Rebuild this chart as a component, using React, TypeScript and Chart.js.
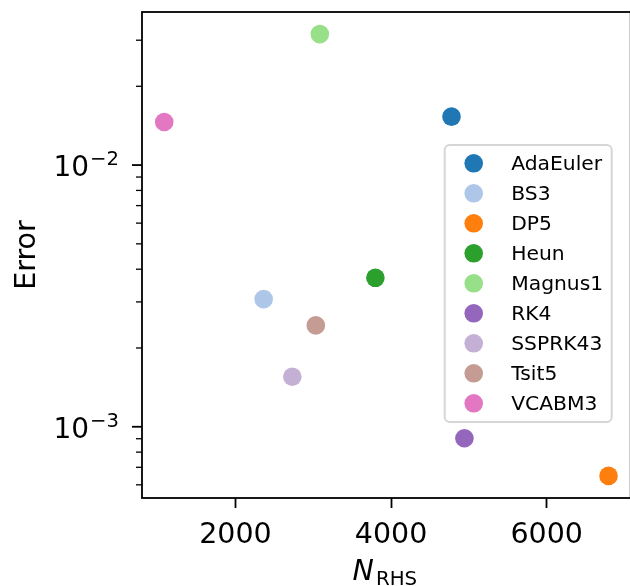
import React, { useEffect, useRef } from "react";
import { Chart, registerables } from "chart.js";

Chart.register(...registerables);

const methods = ["AdaEuler", "BS3", "DP5", "Heun", "Magnus1", "RK4", "SSPRK43", "Tsit5", "VCABM3"];
const nRHS = [4777, 2363, 6795, 3799, 3085, 4943, 2731, 3033, 1085];
const errors = [0.01531, 0.003075, 0.000649, 0.003708, 0.03166, 0.000904, 0.001553, 0.00244, 0.01461];
const colors = ["#1f77b4", "#aec7e8", "#ff7f0e", "#2ca02c", "#98df8a", "#9467bd", "#c5b0d5", "#c49c94", "#e377c2"];

const xTicks = [2000, 4000, 6000];
const xRange = [799.5, 7080];
const yRange = [5.343e-4, 0.03845];
const yMajorTicks = [1e-3, 1e-2];
const yMajorExponents = ["\u22123", "\u22122"];
const yMinorTicks = [6e-4, 7e-4, 8e-4, 9e-4, 2e-3, 3e-3, 4e-3, 5e-3, 6e-3, 7e-3, 8e-3, 9e-3, 2e-2, 3e-2];

const FONT = "'DejaVu Sans', sans-serif";

const axesPlugin = {
  id: "mplAxes",
  afterDatasetsDraw(chart: any) {
    const { ctx, chartArea: a, scales } = chart;
    const y = scales.y;
    ctx.save();
    ctx.strokeStyle = "#000";
    ctx.fillStyle = "#000";
    // y ticks
    ctx.lineWidth = 1.8;
    yMajorTicks.forEach((v) => {
      const py = y.getPixelForValue(v);
      ctx.beginPath();
      ctx.moveTo(a.left - 10, py);
      ctx.lineTo(a.left, py);
      ctx.stroke();
    });
    ctx.lineWidth = 1.3;
    yMinorTicks.forEach((v) => {
      const py = y.getPixelForValue(v);
      ctx.beginPath();
      ctx.moveTo(a.left - 6, py);
      ctx.lineTo(a.left, py);
      ctx.stroke();
    });
    // y tick labels
    ctx.textAlign = "left";
    ctx.textBaseline = "alphabetic";
    yMajorTicks.forEach((v, i) => {
      const py = y.getPixelForValue(v);
      ctx.font = `28px ${FONT}`;
      const wBase = ctx.measureText("10").width;
      ctx.font = `19.6px ${FONT}`;
      const wSup = ctx.measureText(yMajorExponents[i]).width;
      const right = a.left - 23;
      const x0 = right - wSup - wBase - 1;
      ctx.font = `28px ${FONT}`;
      ctx.fillText("10", x0, py + 11.4);
      ctx.font = `19.6px ${FONT}`;
      ctx.fillText(yMajorExponents[i], x0 + wBase + 1, py + 0.4);
    });
    // frame
    ctx.lineWidth = 1.8;
    ctx.strokeRect(a.left, a.top, a.right - a.left, a.bottom - a.top);
    // y title
    ctx.save();
    ctx.translate(35, (a.top + a.bottom) / 2);
    ctx.rotate(-Math.PI / 2);
    ctx.textAlign = "center";
    ctx.font = `28.5px ${FONT}`;
    ctx.fillText("Error", 0, 0);
    ctx.restore();
    // x title: N_RHS
    ctx.font = `italic 28.5px ${FONT}`;
    const wN = ctx.measureText("N").width;
    ctx.font = `19.8px ${FONT}`;
    const wR = ctx.measureText("RHS").width;
    const gap = 2;
    const cx = (a.left + a.right) / 2 - 1.5;
    const sx = cx - (wN + gap + wR) / 2;
    ctx.textAlign = "left";
    ctx.font = `italic 28.5px ${FONT}`;
    ctx.fillText("N", sx, 580);
    ctx.font = `19.8px ${FONT}`;
    ctx.fillText("RHS", sx + wN + gap, 585);
    ctx.restore();
  },
  afterDraw(chart: any) {
    const { ctx, chartArea: a } = chart;
    ctx.save();
    const bx = a.right - 186;
    const by = a.top + 133;
    const bw = 167;
    const bh = 277;
    ctx.beginPath();
    ctx.roundRect(bx, by, bw, bh, 5);
    ctx.fillStyle = "rgba(255,255,255,0.8)";
    ctx.fill();
    ctx.strokeStyle = "#d6d6d6";
    ctx.lineWidth = 2;
    ctx.stroke();
    ctx.font = `20.3px ${FONT}`;
    ctx.textAlign = "left";
    ctx.textBaseline = "alphabetic";
    chart.data.datasets.forEach((ds: any, i: number) => {
      const cy = by + 18.3 + 30 * i;
      ctx.beginPath();
      ctx.arc(bx + 29, cy, 9.3, 0, Math.PI * 2);
      ctx.fillStyle = ds.backgroundColor;
      ctx.fill();
      ctx.fillStyle = "#000";
      ctx.fillText(ds.label, bx + 66.5, cy + 6.5);
    });
    ctx.restore();
  },
};

export default function App() {
  const ref = useRef<HTMLCanvasElement>(null);
  useEffect(() => {
    const chart = new Chart(ref.current!, {
      type: "scatter",
      data: {
        datasets: methods.map((m, i) => ({
          label: m,
          data: [{ x: nRHS[i], y: errors[i] }],
          backgroundColor: colors[i],
          borderColor: colors[i],
          pointRadius: 9.3,
          pointHoverRadius: 9.3,
          pointBorderWidth: 0,
        })),
      },
      options: {
        animation: false,
        responsive: false,
        devicePixelRatio: 1,
        layout: { padding: { left: 142, top: 12, right: 8, bottom: 0 } },
        plugins: { legend: { display: false }, tooltip: { enabled: false } },
        scales: {
          x: {
            type: "linear",
            min: xRange[0],
            max: xRange[1],
            afterBuildTicks: (s: any) => {
              s.ticks = xTicks.map((v) => ({ value: v }));
            },
            afterFit: (s: any) => {
              s.height = 88;
            },
            grid: {
              display: true,
              drawOnChartArea: false,
              drawTicks: true,
              tickLength: 10,
              tickWidth: 1.8,
              tickColor: "#000",
            },
            border: { display: false },
            ticks: {
              color: "#000",
              font: { family: "'DejaVu Sans'", size: 28.5 },
              padding: 10,
              maxRotation: 0,
              autoSkip: false,
              callback: (v: any) => String(v),
            },
          },
          y: {
            type: "logarithmic",
            min: yRange[0],
            max: yRange[1],
            display: false,
          },
        },
      },
      plugins: [axesPlugin],
    } as any);
    return () => chart.destroy();
  }, []);
  return (
    <div style={{ position: "fixed", left: 0, top: 0, width: 630, height: 586, overflow: "hidden", background: "#fff" }}>
      <canvas ref={ref} width={640} height={586} style={{ display: "block", width: 640, height: 586 }} />
    </div>
  );
}
